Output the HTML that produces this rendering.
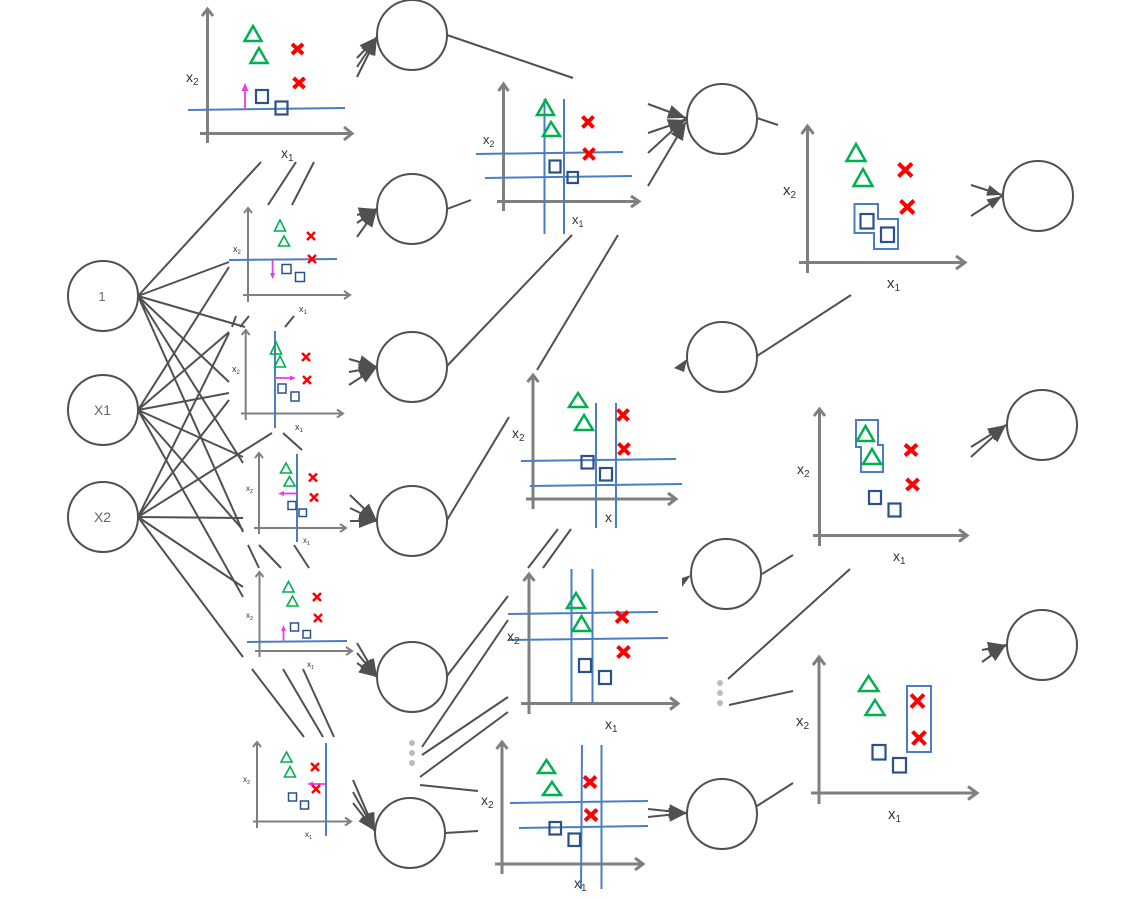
<!DOCTYPE html>
<html>
<head>
<meta charset="utf-8">
<style>
html,body{margin:0;padding:0;background:#fff;}
svg{display:block;}
text{font-family:"Liberation Sans",sans-serif;fill:#333;}
.n{fill:#fff;stroke:#505050;stroke-width:2;}
.l{stroke:#505050;stroke-width:2;fill:none;}
.a{stroke:#7f7f7f;stroke-width:3;fill:none;}
.a2{stroke:#7f7f7f;stroke-width:2;fill:none;}
.b{stroke:#4a7ec4;stroke-width:2;fill:none;}
.g{stroke:#00b050;stroke-width:2.5;fill:none;}
.g2{stroke:#00b050;stroke-width:1.6;fill:none;}
.r{stroke:#ff0000;stroke-width:4;fill:none;}
.r2{stroke:#ff0000;stroke-width:2.5;fill:none;}
.s{stroke:#2a5288;stroke-width:2.2;fill:none;}
.s2{stroke:#2a5288;stroke-width:1.5;fill:none;}
.m{stroke:#e53fe8;stroke-width:1.8;fill:none;}
</style>
</head>
<body>
<svg xmlns="http://www.w3.org/2000/svg" width="1130" height="900" viewBox="0 0 1130 900">
<defs>
<marker id="h" viewBox="0 0 15 11" refX="15" refY="5.5" markerWidth="15" markerHeight="11" orient="auto" markerUnits="userSpaceOnUse"><path d="M0 0L15 5.5L0 11Z" fill="#505050"/></marker>
<marker id="k" viewBox="0 0 18 14" refX="18" refY="7" markerWidth="18" markerHeight="14" orient="auto" markerUnits="userSpaceOnUse"><path d="M0 0L18 7L0 14Z" fill="#505050"/></marker>
</defs>
<rect width="1130" height="900" fill="#fff"/>

<!-- input fan -->
<g class="l">
<path d="M138 296L261 162M138 296L229 262M138 296L245 327M138 296L229 382M138 296L243 463M138 296L243 532"/>
<path d="M138 410L229 267M138 410L229 332M138 410L229 393M138 410L243 457M138 410L243 530M138 410L243 597"/>
<path d="M138 517L229 400M138 517L229 333M138 517L272 433M138 517L243 518M138 517L243 587M138 517L243 657"/>
<path d="M268 205L296 162M292 205L314 162M232 327L236 316M240 327L249 316M285 327L294 316"/>
<path d="M283 433L302 450M248 545L259 568M259 545L281 568M294 545L309 568"/>
<path d="M252 669L304 737M283 669L323 737M303 669L334 737"/>
</g>

<!-- arrows into layer 1 -->
<g class="l">
<line x1="357" y1="58" x2="377" y2="37" marker-end="url(#k)"/>
<line x1="357" y1="67" x2="377" y2="37" marker-end="url(#k)"/>
<line x1="357" y1="77" x2="377" y2="37" marker-end="url(#k)"/>
<line x1="357" y1="215" x2="377" y2="209" marker-end="url(#k)"/>
<line x1="357" y1="223" x2="377" y2="209" marker-end="url(#k)"/>
<line x1="357" y1="237" x2="377" y2="209" marker-end="url(#k)"/>
<line x1="349" y1="359" x2="377" y2="367" marker-end="url(#k)"/>
<line x1="349" y1="372" x2="377" y2="367" marker-end="url(#k)"/>
<line x1="349" y1="385" x2="377" y2="367" marker-end="url(#k)"/>
<line x1="350" y1="495" x2="377" y2="521" marker-end="url(#k)"/>
<line x1="350" y1="508" x2="377" y2="521" marker-end="url(#k)"/>
<line x1="350" y1="521" x2="377" y2="521" marker-end="url(#k)"/>
<line x1="357" y1="643" x2="377" y2="677" marker-end="url(#k)"/>
<line x1="357" y1="653" x2="377" y2="677" marker-end="url(#k)"/>
<line x1="357" y1="663" x2="377" y2="677" marker-end="url(#k)"/>
<line x1="353" y1="780" x2="375" y2="831" marker-end="url(#k)"/>
<line x1="353" y1="792" x2="375" y2="831" marker-end="url(#k)"/>
<line x1="353" y1="803" x2="375" y2="831" marker-end="url(#k)"/>
</g>

<!-- layer1 to layer2 lines -->
<path class="l" d="M447 35L573 78M447 209L471 200M447 366L572 235M447 520L509 417M537 370L618 235M528 568L558 529M543 568L571 529M447 676L508 596M422 747L508 620M422 755L508 697M420 777L508 712M420 785L478 791M445 833L478 831"/>

<!-- arrows into layer 2 -->
<line class="l" x1="648" y1="104" x2="686" y2="118" marker-end="url(#k)"/>
<line class="l" x1="648" y1="133" x2="686" y2="120" marker-end="url(#k)"/>
<line class="l" x1="648" y1="153" x2="686" y2="118" marker-end="url(#k)"/>
<line class="l" x1="648" y1="186" x2="686" y2="122" marker-end="url(#k)"/>
<line class="l" x1="648" y1="809" x2="687" y2="813" marker-end="url(#k)"/>
<line class="l" x1="648" y1="817" x2="687" y2="813" marker-end="url(#k)"/>
<path d="M687 359L674 368L684 372Z" fill="#505050"/>
<path d="M691 575L682 578L682 587Z" fill="#505050"/>

<!-- layer2 to layer3 lines -->
<path class="l" d="M757 118L778 125M757 356L851 295M762 574L793 555M757 806L793 783M728 679L850 569M729 705L793 691"/>

<!-- arrows into layer 3 -->
<line class="l" x1="971" y1="185" x2="1002" y2="195" marker-end="url(#h)"/>
<line class="l" x1="971" y1="216" x2="1002" y2="196" marker-end="url(#h)"/>
<line class="l" x1="971" y1="447" x2="1006" y2="425" marker-end="url(#k)"/>
<line class="l" x1="971" y1="457" x2="1006" y2="425" marker-end="url(#k)"/>
<line class="l" x1="982" y1="650" x2="1006" y2="645" marker-end="url(#k)"/>
<line class="l" x1="982" y1="662" x2="1006" y2="645" marker-end="url(#k)"/>

<!-- nodes -->
<circle class="n" cx="103" cy="296" r="35"/>
<circle class="n" cx="103" cy="410" r="35"/>
<circle class="n" cx="103" cy="517" r="35"/>
<text x="102" y="301" font-size="13" text-anchor="middle" style="fill:#666">1</text>
<text x="102.500" y="415" font-size="14" text-anchor="middle" style="fill:#666">X1</text>
<text x="102.500" y="522" font-size="14" text-anchor="middle" style="fill:#666">X2</text>
<circle class="n" cx="412" cy="35" r="35"/>
<circle class="n" cx="412" cy="209" r="35"/>
<circle class="n" cx="412" cy="367" r="35"/>
<circle class="n" cx="412" cy="521" r="35"/>
<circle class="n" cx="412" cy="677" r="35"/>
<circle class="n" cx="410" cy="833" r="35"/>
<circle class="n" cx="722" cy="119" r="35"/>
<circle class="n" cx="722" cy="357" r="35"/>
<circle class="n" cx="726" cy="574" r="35"/>
<circle class="n" cx="722" cy="814" r="35"/>
<circle class="n" cx="1038" cy="196" r="35"/>
<circle class="n" cx="1042" cy="425" r="35"/>
<circle class="n" cx="1042" cy="645" r="35"/>
<g fill="#bbb">
<circle cx="412" cy="743" r="3"/><circle cx="412" cy="753" r="3"/><circle cx="412" cy="763" r="3"/>
<circle cx="720" cy="683" r="3"/><circle cx="720" cy="693" r="3"/><circle cx="720" cy="703" r="3"/>
</g>

<!-- panel 1 -->
<path class="a" d="M207.500 143V9M202 16L207.500 9L213 16M200 133.500H352M344 127L352 133.500L344 140"/>
<path class="b" d="M188 110L345 108"/>
<path class="m" d="M245 110V88"/><path d="M245 83L241.500 91H248.500Z" fill="#e53fe8"/>
<path class="g" d="M253 26L261.500 41H244.500ZM259 48L267.500 63H250.500Z"/>
<path class="r" d="M292 44L303 54M303 44L292 54M293.500 78L304.500 88M304.500 78L293.500 88"/>
<rect class="s" x="256" y="90" width="12" height="13"/><rect class="s" x="275.500" y="101.500" width="12" height="13"/>
<text x="186" y="82" font-size="14">x<tspan font-size="10" dy="3">2</tspan></text>
<text x="281" y="158" font-size="14">x<tspan font-size="10" dy="3">1</tspan></text>

<!-- panel 2 -->
<path class="a2" d="M248 302V208M244 213L248 208L252 213M243 295H350M344 291L350 295L344 299"/>
<path class="b" d="M229 260L337 259"/>
<path class="m" d="M272.600 260V275"/><path d="M272.600 279L270 273H275.200Z" fill="#e53fe8"/>
<path class="g2" d="M280 220L285.500 231H274.500ZM284 236L289.500 246H278.500Z"/>
<path class="r2" d="M307 232L315 240M315 232L307 240M308 255L316 263M316 255L308 263"/>
<rect class="s2" x="282" y="264.500" width="9" height="9"/><rect class="s2" x="295.500" y="272.500" width="9" height="9"/>
<text x="233" y="252" font-size="9">x<tspan font-size="6" dy="2">2</tspan></text>
<text x="299" y="312" font-size="9">x<tspan font-size="6" dy="2">1</tspan></text>

<!-- panel 3 -->
<path class="a2" d="M245.700 420V330M241.700 335L245.700 330L249.700 335M241 413.500H343M337 409.500L343 413.500L337 417.500"/>
<path class="b" d="M275 331V428"/>
<path class="m" d="M275 378H292"/><path d="M296 378L290 375.500V380.500Z" fill="#e53fe8"/>
<path class="g2" d="M276 342L281.500 354H270.500ZM280 356L285.500 367H274.500Z"/>
<path class="r2" d="M302 353L310 361M310 353L302 361M303 376L311 384M311 376L303 384"/>
<rect class="s2" x="278" y="384" width="8" height="9"/><rect class="s2" x="291" y="392" width="8" height="9"/>
<text x="232" y="372" font-size="9">x<tspan font-size="6" dy="2">2</tspan></text>
<text x="295" y="430" font-size="9">x<tspan font-size="6" dy="2">1</tspan></text>

<!-- panel 4 -->
<path class="a2" d="M259 534V453M255 458L259 453L263 458M254 528H346M340 524L346 528L340 532"/>
<path class="b" d="M297 454V542"/>
<path class="m" d="M297 493.500H282"/><path d="M278 493.500L284 491V496Z" fill="#e53fe8"/>
<path class="g2" d="M286 463L291.500 473H280.500ZM289.500 476.500L295 486H284Z"/>
<path class="r2" d="M309 473.500L317 481.500M317 473.500L309 481.500M310 493.500L318 501.500M318 493.500L310 501.500"/>
<rect class="s2" x="288" y="501.500" width="8" height="8"/><rect class="s2" x="299" y="509" width="7.500" height="7.500"/>
<text x="246" y="491" font-size="8">x<tspan font-size="5.500" dy="2">2</tspan></text>
<text x="303" y="543" font-size="8">x<tspan font-size="5.500" dy="2">1</tspan></text>

<!-- panel 5 -->
<path class="a2" d="M259.500 657V572M255.500 577L259.500 572L263.500 577M255 651H352M346 647L352 651L346 655"/>
<path class="b" d="M247 642L347 641"/>
<path class="m" d="M283.500 642V630"/><path d="M283.500 625L281 631H286Z" fill="#e53fe8"/>
<path class="g2" d="M288.500 581.500L294 592H283ZM292.500 596L298 606H287Z"/>
<path class="r2" d="M313 593L321 601M321 593L313 601M314 614L322 622M322 614L314 622"/>
<rect class="s2" x="290.500" y="623" width="8" height="8"/><rect class="s2" x="303" y="630.500" width="7.500" height="7.500"/>
<text x="246" y="618" font-size="8">x<tspan font-size="5.500" dy="2">2</tspan></text>
<text x="307" y="667" font-size="8">x<tspan font-size="5.500" dy="2">1</tspan></text>

<!-- panel 6 -->
<path class="a2" d="M257 828V742M253 747L257 742L261 747M253 821.500H351M345 817.500L351 821.500L345 825.500"/>
<path class="b" d="M326 743V836"/>
<path class="m" d="M326 784H311"/><path d="M307 784L313 781.500V786.500Z" fill="#e53fe8"/>
<path class="g2" d="M286.500 752L292 762H281ZM290 766.500L295.500 777H284.500Z"/>
<path class="r2" d="M311 763L319 771M319 763L311 771M312 785L320 793M320 785L312 793"/>
<rect class="s2" x="288.500" y="793" width="8" height="8"/><rect class="s2" x="300.500" y="801" width="8" height="8"/>
<text x="243" y="782" font-size="8">x<tspan font-size="5.500" dy="2">2</tspan></text>
<text x="305" y="837" font-size="8">x<tspan font-size="5.500" dy="2">1</tspan></text>

<!-- panel 7 -->
<path class="a" stroke-width="2.500" d="M503.500 211V84M498.500 91L503.500 84L508.500 91M497 201.500H639M631 196L639 201.500L631 207"/>
<path class="b" d="M476 154L623 152M485 178L632 176M544.500 99V234M564 99V234"/>
<path class="g" d="M545.500 100L554 115H537ZM551 122L560 136H543Z"/>
<path class="r" d="M582.500 116.500L593.500 127.500M593.500 116.500L582.500 127.500M583.500 148.500L594.500 159.500M594.500 148.500L583.500 159.500"/>
<rect class="s" x="549.500" y="160.500" width="11" height="12"/><rect class="s" x="567.500" y="172" width="10.500" height="11"/>
<text x="483" y="144" font-size="13">x<tspan font-size="9" dy="3">2</tspan></text>
<text x="572" y="224" font-size="13">x<tspan font-size="9" dy="3">1</tspan></text>

<!-- panel 8 -->
<path class="a" d="M533 509V375M527.500 382L533 375L538.500 382M526 499H676M668 493L676 499L668 505"/>
<path class="b" d="M521 461L676 459M530 486L682 484M596 403V528M616 403V528"/>
<path class="g" d="M578 393L587 407H569ZM584 415L593 430H575Z"/>
<path class="r" d="M617.500 409.500L628.500 420.500M628.500 409.500L617.500 420.500M618.500 443.500L629.500 454.500M629.500 443.500L618.500 454.500"/>
<rect class="s" x="581.500" y="456" width="12" height="12.500"/><rect class="s" x="600" y="468" width="12" height="12.500"/>
<text x="512" y="438" font-size="14">x<tspan font-size="10" dy="3">2</tspan></text>
<text x="605" y="522" font-size="14">x</text>

<!-- panel 9 -->
<path class="a" d="M529 714V574M523.500 581L529 574L534.500 581M521 703.500H678M670 697.500L678 703.500L670 709.500"/>
<path class="b" d="M508 614L658 612M508 640L668 638M571.500 569V703M592.500 569V703"/>
<path class="g" d="M576 593L585 608H567ZM581.500 616L590.500 631H572.500Z"/>
<path class="r" d="M616 611.500L628 622.500M628 611.500L616 622.500M617.500 646.500L629.500 657.500M629.500 646.500L617.500 657.500"/>
<rect class="s" x="579" y="659" width="12" height="13"/><rect class="s" x="599" y="671" width="12" height="13"/>
<text x="507" y="641" font-size="14">x<tspan font-size="10" dy="3">2</tspan></text>
<text x="605" y="729" font-size="14">x<tspan font-size="10" dy="3">1</tspan></text>

<!-- panel 10 -->
<path class="a" d="M502 874V742M496.500 749L502 742L507.500 749M495 864H643M635 858L643 864L635 870"/>
<path class="b" d="M510 803L648 801M519 828L648 826M582 745L581 889M601.500 745V889"/>
<path class="g" d="M546.500 760L555 773H538ZM552 782L561 795H543Z"/>
<path class="r" d="M584 776.500L596 787.500M596 776.500L584 787.500M585 809.500L597 820.500M597 809.500L585 820.500"/>
<rect class="s" x="549.500" y="822" width="11.500" height="12.500"/><rect class="s" x="568.500" y="833.500" width="11.500" height="12.500"/>
<text x="481" y="805" font-size="14">x<tspan font-size="10" dy="3">2</tspan></text>
<text x="574" y="888" font-size="14">x<tspan font-size="10" dy="3">1</tspan></text>

<!-- panel 11 -->
<path class="a" d="M807.500 273V126M801.500 134L807.500 126L813.500 134M799 262.500H965M956 256L965 262.500L956 269"/>
<path class="b" d="M854.500 204H878V219H898V249H874V233H854.500Z"/>
<path class="g" d="M856 144L865.500 161H846.500ZM863 169L872.500 186H853.500Z"/>
<path class="r" d="M898.500 163.500L912 176.500M912 163.500L898.500 176.500M900.500 200.500L914 213.500M914 200.500L900.500 213.500"/>
<rect class="s" x="860.500" y="214" width="13" height="14.500"/><rect class="s" x="881" y="227.500" width="13" height="14.500"/>
<text x="783" y="195" font-size="15">x<tspan font-size="10" dy="3">2</tspan></text>
<text x="887" y="288" font-size="15">x<tspan font-size="10" dy="3">1</tspan></text>

<!-- panel 12 -->
<path class="a" d="M819.500 546V409M814 416L819.500 409L825 416M813 535.500H967M959 529.500L967 535.500L959 541.500"/>
<path class="b" d="M856 420H878V445H883V472H861V447H856Z"/>
<path class="g" d="M865.500 426L874 441H857ZM872 449L881 464H863Z"/>
<path class="r" d="M905 444.500L917 455.500M917 444.500L905 455.500M906.500 479L918.500 490M918.500 479L906.500 490"/>
<rect class="s" x="869" y="491" width="12" height="13"/><rect class="s" x="888.500" y="503.500" width="12" height="13"/>
<text x="797" y="474" font-size="14">x<tspan font-size="10" dy="3">2</tspan></text>
<text x="893" y="561" font-size="14">x<tspan font-size="10" dy="3">1</tspan></text>

<!-- panel 13 -->
<path class="a" d="M819 804V657M813 665L819 657L825 665M811 793H977M968 786.500L977 793L968 799.500"/>
<path class="b" d="M907 686H931V752H907Z"/>
<path class="g" d="M868.500 676L878.500 691H859ZM875 700L884.500 715H865.500Z"/>
<path class="r" d="M911 694.500L924 707.500M924 694.500L911 707.500M912.500 731.500L925.500 744.500M925.500 731.500L912.500 744.500"/>
<rect class="s" x="872.500" y="745" width="13" height="14.500"/><rect class="s" x="893" y="758" width="13" height="14.500"/>
<text x="796" y="726" font-size="15">x<tspan font-size="10" dy="3">2</tspan></text>
<text x="888" y="819" font-size="15">x<tspan font-size="10" dy="3">1</tspan></text>
</svg>
</body>
</html>
